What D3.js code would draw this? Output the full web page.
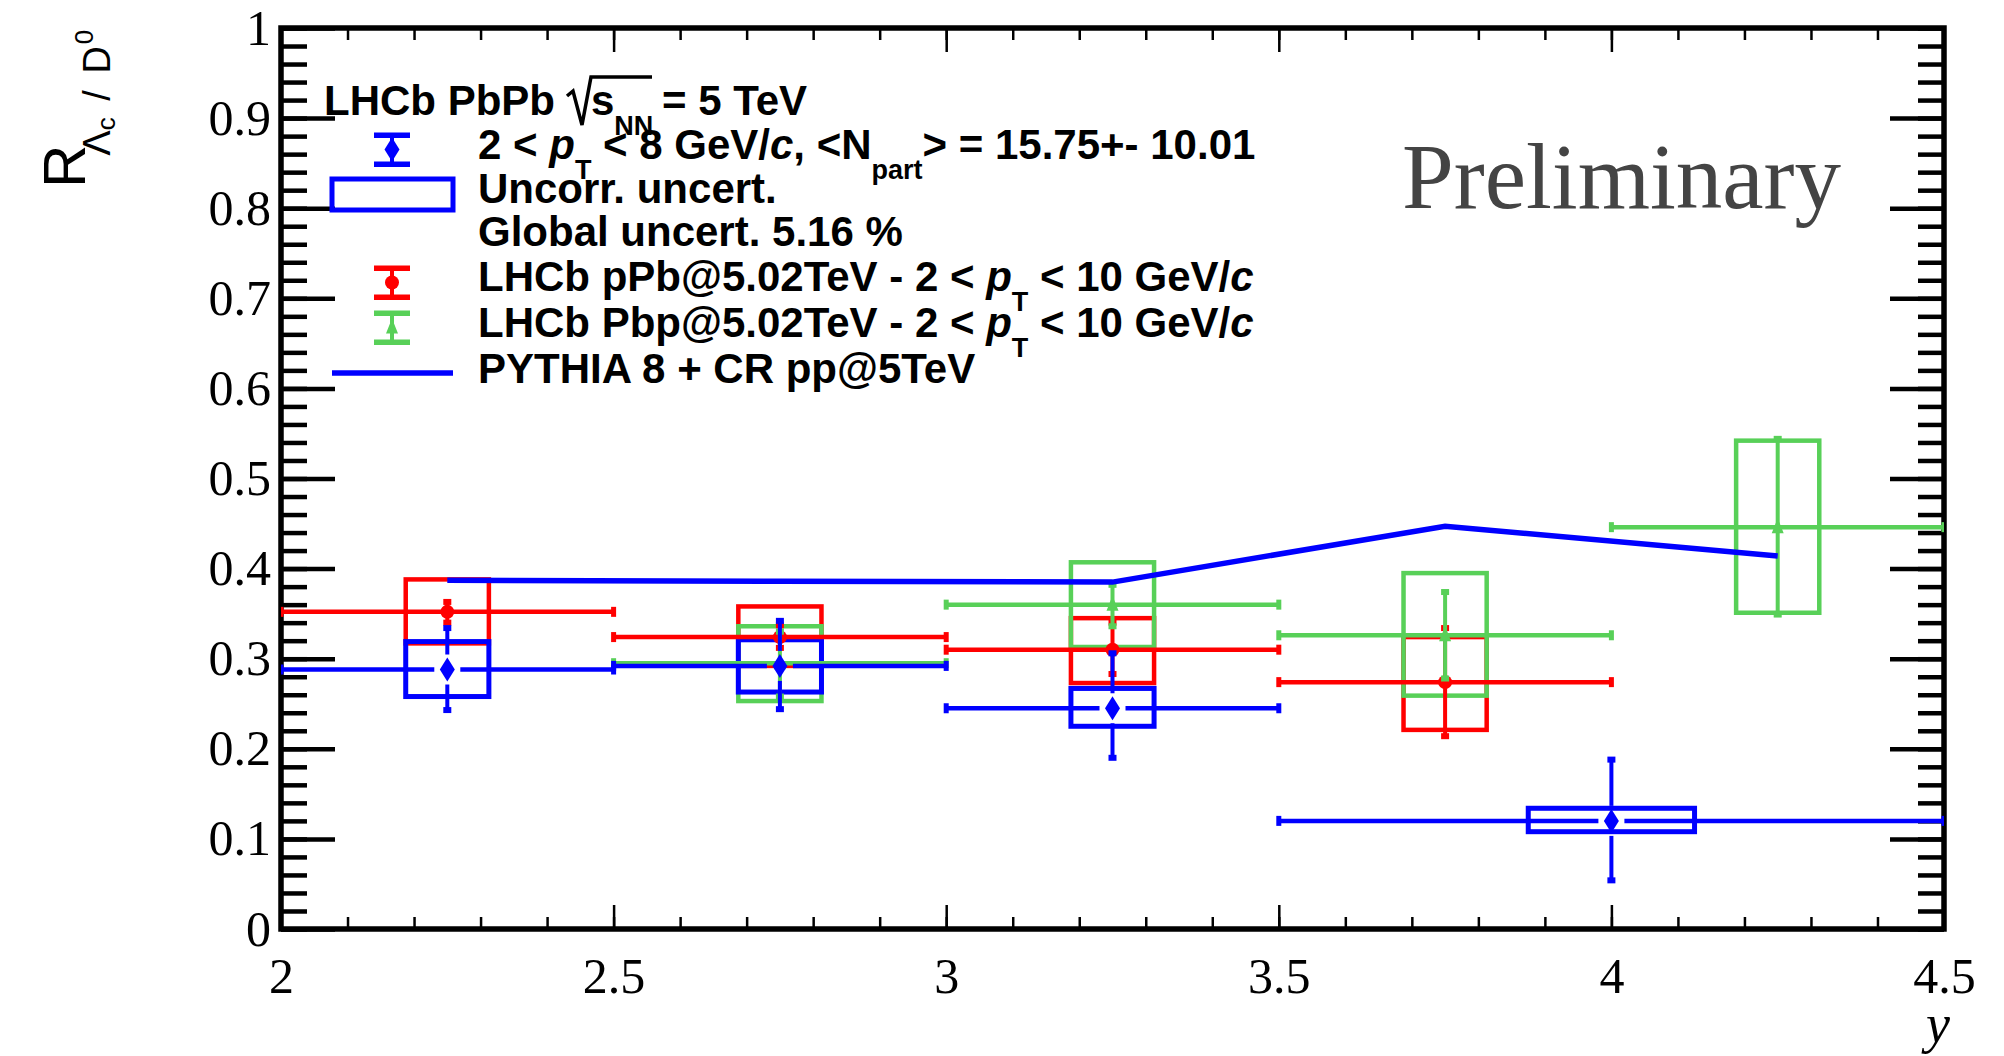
<!DOCTYPE html>
<html><head><meta charset="utf-8">
<script src="https://cdn.jsdelivr.net/npm/d3@7"></script>
<style>html,body{margin:0;padding:0;background:#fff;}svg{display:block;}</style>
</head><body>
<script>
// ---------- data ----------
const xMajorTicks = [2, 2.5, 3, 3.5, 4, 4.5];
const xMinorTicks = d3.range(2, 4.5001, 0.1).map(v => +v.toFixed(2));
const yMajorTicks = [0, 0.1, 0.2, 0.3, 0.4, 0.5, 0.6, 0.7, 0.8, 0.9, 1];
const yMinorTicks = d3.range(0, 1.0001, 0.02).map(v => +v.toFixed(2));

// PbPb (blue)
const pbpbX     = [2.25, 2.75, 3.25, 4.0];
const pbpbXLo   = [2.0, 2.5, 3.0, 3.5];
const pbpbXHi   = [2.5, 3.0, 3.5, 4.5];
const pbpbY     = [0.288, 0.292, 0.245, 0.120];
const pbpbStatLo= [0.243, 0.244, 0.190, 0.054];
const pbpbStatHi= [0.334, 0.342, 0.306, 0.188];
const pbpbSysLo = [0.258, 0.263, 0.225, 0.108];
const pbpbSysHi = [0.319, 0.321, 0.267, 0.134];
const pbpbBoxHalf = [0.0625, 0.0625, 0.0625, 0.125];

// pPb (red)
const ppbX      = [2.25, 2.75, 3.25, 3.75];
const ppbXLo    = [2.0, 2.5, 3.0, 3.5];
const ppbXHi    = [2.5, 3.0, 3.5, 4.0];
const ppbY      = [0.352, 0.324, 0.310, 0.274];
const ppbStatLo = [0.340, 0.312, 0.283, 0.214];
const ppbStatHi = [0.363, 0.337, 0.340, 0.334];
const ppbSysLo  = [0.317, 0.292, 0.273, 0.221];
const ppbSysHi  = [0.388, 0.358, 0.345, 0.324];
const ppbBoxHalf = [0.0625, 0.0625, 0.0625, 0.0625];

// Pbp (green)
const pbpX      = [2.75, 3.25, 3.75, 4.25];
const pbpXLo    = [2.5, 3.0, 3.5, 4.0];
const pbpXHi    = [3.0, 3.5, 4.0, 4.5];
const pbpY      = [0.295, 0.360, 0.326, 0.446];
const pbpStatLo = [0.258, 0.336, 0.278, 0.349];
const pbpStatHi = [0.330, 0.382, 0.374, 0.544];
const pbpSysLo  = [0.253, 0.313, 0.259, 0.351];
const pbpSysHi  = [0.336, 0.407, 0.395, 0.542];
const pbpBoxHalf = [0.0625, 0.0625, 0.0625, 0.0625];

// PYTHIA 8 + CR
const pythiaX = [2.25, 2.75, 3.25, 3.75, 4.25];
const pythiaY = [0.387, 0.386, 0.385, 0.447, 0.414];

const BLUE = "#0000ff", RED = "#ff0000", GREEN = "#58d058";

// ---------- setup ----------
const W = 2004, H = 1056;
const svg = d3.select("body").append("svg").attr("width", W).attr("height", H);
svg.append("rect").attr("width", W).attr("height", H).attr("fill", "#fff");

const x = d3.scaleLinear().domain([2, 4.5]).range([281, 1944]);
const y = d3.scaleLinear().domain([0, 1]).range([929, 28]);

svg.append("defs").append("clipPath").attr("id", "plotclip")
  .append("rect").attr("x", x(2)).attr("y", y(1)).attr("width", x(4.5) - x(2)).attr("height", y(0) - y(1));

// ---------- axes ----------
function styleAxis(g, sw) {
  g.select(".domain").remove();
  g.selectAll(".tick line").attr("stroke", "#000").attr("stroke-width", sw);
  g.selectAll(".tick text").attr("fill", "#000");
}
const serif = "'Liberation Serif','Times New Roman',serif";

// bottom
const gxb = svg.append("g").attr("transform", `translate(0,${y(0)})`)
  .call(d3.axisBottom(x).tickValues(xMajorTicks).tickSize(-24).tickPadding(28).tickFormat(d3.format("~g")));
styleAxis(gxb, 2.5);
gxb.selectAll(".tick text").attr("font-family", serif).attr("font-size", 50);
const gxbm = svg.append("g").attr("transform", `translate(0,${y(0)})`)
  .call(d3.axisBottom(x).tickValues(xMinorTicks).tickSize(-12).tickFormat(""));
styleAxis(gxbm, 2.5);
// top
const gxt = svg.append("g").attr("transform", `translate(0,${y(1)})`)
  .call(d3.axisTop(x).tickValues(xMajorTicks).tickSize(-24).tickFormat(""));
styleAxis(gxt, 2.5);
const gxtm = svg.append("g").attr("transform", `translate(0,${y(1)})`)
  .call(d3.axisTop(x).tickValues(xMinorTicks).tickSize(-12).tickFormat(""));
styleAxis(gxtm, 2.5);
// left
const gyl = svg.append("g").attr("transform", `translate(${x(2)},0)`)
  .call(d3.axisLeft(y).tickValues(yMajorTicks).tickSize(-54).tickPadding(10).tickFormat(d3.format("~g")));
styleAxis(gyl, 4.5);
gyl.selectAll(".tick text").attr("font-family", serif).attr("font-size", 50);
const gylm = svg.append("g").attr("transform", `translate(${x(2)},0)`)
  .call(d3.axisLeft(y).tickValues(yMinorTicks).tickSize(-26).tickFormat(""));
styleAxis(gylm, 4.5);
// right
const gyr = svg.append("g").attr("transform", `translate(${x(4.5)},0)`)
  .call(d3.axisRight(y).tickValues(yMajorTicks).tickSize(-54).tickFormat(""));
styleAxis(gyr, 4.5);
const gyrm = svg.append("g").attr("transform", `translate(${x(4.5)},0)`)
  .call(d3.axisRight(y).tickValues(yMinorTicks).tickSize(-26).tickFormat(""));
styleAxis(gyrm, 4.5);

// frame
svg.append("rect").attr("x", x(2)).attr("y", y(1)).attr("width", x(4.5) - x(2)).attr("height", y(0) - y(1))
  .attr("fill", "none").attr("stroke", "#000").attr("stroke-width", 5.5);

// axis titles
svg.append("text").attr("x", 1950).attr("y", 1042).attr("text-anchor", "end")
  .attr("font-family", serif).attr("font-style", "italic").attr("font-size", 54).text("y");

const sans = "'Liberation Sans',Arial,Helvetica,sans-serif";
const yt = svg.append("text").attr("transform", "translate(85,188) rotate(-90)")
  .attr("font-family", sans).attr("fill", "#000");
yt.append("tspan").attr("font-size", 60).text("R");
yt.append("tspan").attr("font-size", 38).attr("dx", -11).attr("dy", 25).text("Λ");
yt.append("tspan").attr("font-size", 26).attr("dy", 5).text("c");
yt.append("tspan").attr("font-size", 38).attr("dx", 6).attr("dy", -5).text(" /");
yt.append("tspan").attr("font-size", 38).attr("dx", 6).text(" D");
yt.append("tspan").attr("font-size", 26).attr("dx", 2).attr("dy", -17).text("0");

// ---------- data drawing ----------
const plot = svg.append("g").attr("clip-path", "url(#plotclip)");

function drawBoxes(color, xs, boxHalf, lo, hi, sw) {
  plot.append("g").selectAll("rect").data(xs).join("rect")
    .attr("x", (d, i) => x(d - boxHalf[i]))
    .attr("y", (d, i) => y(hi[i]))
    .attr("width", (d, i) => x(d + boxHalf[i]) - x(d - boxHalf[i]))
    .attr("height", (d, i) => y(lo[i]) - y(hi[i]))
    .attr("fill", "none").attr("stroke", color).attr("stroke-width", sw);
}

function drawMarker(g, marker, cx, cy, color) {
  if (marker === "diamond") {
    g.append("path").attr("d", `M${cx},${cy - 12}L${cx + 7.5},${cy}L${cx},${cy + 12}L${cx - 7.5},${cy}Z`).attr("fill", color);
  } else if (marker === "circle") {
    g.append("circle").attr("cx", cx).attr("cy", cy).attr("r", 7).attr("fill", color);
  } else if (marker === "triangle") {
    g.append("path").attr("d", `M${cx},${cy - 9}L${cx + 6},${cy + 6}L${cx - 6},${cy + 6}Z`).attr("fill", color);
  }
}

function drawBars(color, xs, xlo, xhi, ys, slo, shi, gap, marker) {
  const g = plot.append("g");
  xs.forEach((xv, i) => {
    const cx = x(xv), cy = y(ys[i]);
    const hsegs = gap > 0 ? [[x(xlo[i]), cx - gap], [cx + gap, x(xhi[i])]] : [[x(xlo[i]), x(xhi[i])]];
    hsegs.forEach(s => g.append("line").attr("x1", s[0]).attr("x2", s[1]).attr("y1", cy).attr("y2", cy)
      .attr("stroke", color).attr("stroke-width", 4.5));
    const vsegs = gap > 0 ? [[y(shi[i]), cy - gap - 2], [cy + gap + 2, y(slo[i])]] : [[y(shi[i]), y(slo[i])]];
    vsegs.forEach(s => g.append("line").attr("x1", cx).attr("x2", cx).attr("y1", s[0]).attr("y2", s[1])
      .attr("stroke", color).attr("stroke-width", 4));
    [y(shi[i]), y(slo[i])].forEach(v => g.append("rect").attr("x", cx - 4).attr("y", v - 3).attr("width", 8).attr("height", 6).attr("fill", color));
    [x(xlo[i]), x(xhi[i])].forEach(v => g.append("rect").attr("x", v - 2.5).attr("y", cy - 5).attr("width", 5).attr("height", 10).attr("fill", color));
    drawMarker(g, marker, cx, cy, color);
  });
}

drawBoxes(RED, ppbX, ppbBoxHalf, ppbSysLo, ppbSysHi, 4.5);
drawBoxes(GREEN, pbpX, pbpBoxHalf, pbpSysLo, pbpSysHi, 4.5);
drawBoxes(BLUE, pbpbX, pbpbBoxHalf, pbpbSysLo, pbpbSysHi, 5);
drawBars(RED, ppbX, ppbXLo, ppbXHi, ppbY, ppbStatLo, ppbStatHi, 0, "circle");
drawBars(GREEN, pbpX, pbpXLo, pbpXHi, pbpY, pbpStatLo, pbpStatHi, 0, "triangle");
drawBars(BLUE, pbpbX, pbpbXLo, pbpbXHi, pbpbY, pbpbStatLo, pbpbStatHi, 13, "diamond");

const pyLine = d3.line().x((d, i) => x(pythiaX[i])).y(d => y(d));
plot.append("path").attr("d", pyLine(pythiaY)).attr("fill", "none").attr("stroke", BLUE).attr("stroke-width", 5.5);

// ---------- legend ----------
const LFS = 42, SUBFS = 27, SUBDY = 20;
function legText(xp, yp, parts) {
  const t = svg.append("text").attr("x", xp).attr("y", yp).attr("font-family", sans)
    .attr("font-weight", "bold").attr("font-size", LFS).attr("fill", "#000");
  let shifted = false;
  parts.forEach(([s, st]) => {
    const ts = t.append("tspan").text(s);
    if (st === "s") { ts.attr("font-size", SUBFS).attr("dy", SUBDY); shifted = true; }
    else {
      if (shifted) { ts.attr("dy", -SUBDY); shifted = false; }
      if (st === "i") ts.attr("font-style", "italic");
    }
  });
  return t;
}

// header with sqrt
legText(324, 115, [["LHCb PbPb", "n"]]);
svg.append("path").attr("d", "M567,96 L573,91 L582,125 L591,77 L652,77")
  .attr("fill", "none").attr("stroke", "#000").attr("stroke-width", 3.5).attr("stroke-linejoin", "miter");
legText(591, 115, [["s", "n"], ["NN", "s"]]);
legText(662, 115, [["= 5 TeV", "n"]]);

const legendLabels = [
  [["2 < ", "n"], ["p", "i"], ["T", "s"], [" < 8 GeV/", "n"], ["c", "i"], [", <N", "n"], ["part", "s"], ["> = 15.75+- 10.01", "n"]],
  [["Uncorr. uncert.", "n"]],
  [["Global uncert. 5.16 %", "n"]],
  [["LHCb pPb@5.02TeV - 2 < ", "n"], ["p", "i"], ["T", "s"], [" < 10 GeV/", "n"], ["c", "i"]],
  [["LHCb Pbp@5.02TeV - 2 < ", "n"], ["p", "i"], ["T", "s"], [" < 10 GeV/", "n"], ["c", "i"]],
  [["PYTHIA 8 + CR pp@5TeV", "n"]]
];
const legendBaselines = [159, 203, 246, 291, 337, 383];
legendLabels.forEach((p, i) => legText(478, legendBaselines[i], p));

// legend symbols
function legErr(color, cx, top, bot, marker) {
  const g = svg.append("g");
  g.append("line").attr("x1", cx).attr("x2", cx).attr("y1", top).attr("y2", bot).attr("stroke", color).attr("stroke-width", 4);
  [top, bot].forEach(v => g.append("rect").attr("x", cx - 18).attr("y", v - 2.5).attr("width", 36).attr("height", 5.5).attr("fill", color));
  drawMarker(g, marker, cx, (top + bot) / 2, color);
}
legErr(BLUE, 392, 135, 164, "diamond");
svg.append("rect").attr("x", 332).attr("y", 179).attr("width", 121).attr("height", 31)
  .attr("fill", "none").attr("stroke", BLUE).attr("stroke-width", 5);
legErr(RED, 392, 268, 297, "circle");
legErr(GREEN, 392, 313, 342, "triangle");
svg.append("line").attr("x1", 332).attr("x2", 453).attr("y1", 373).attr("y2", 373).attr("stroke", BLUE).attr("stroke-width", 5.5);

// Preliminary
svg.append("text").attr("x", 1402).attr("y", 208).attr("font-family", serif).attr("font-size", 93)
  .attr("fill", "#444").text("Preliminary");
</script>
</body></html>
